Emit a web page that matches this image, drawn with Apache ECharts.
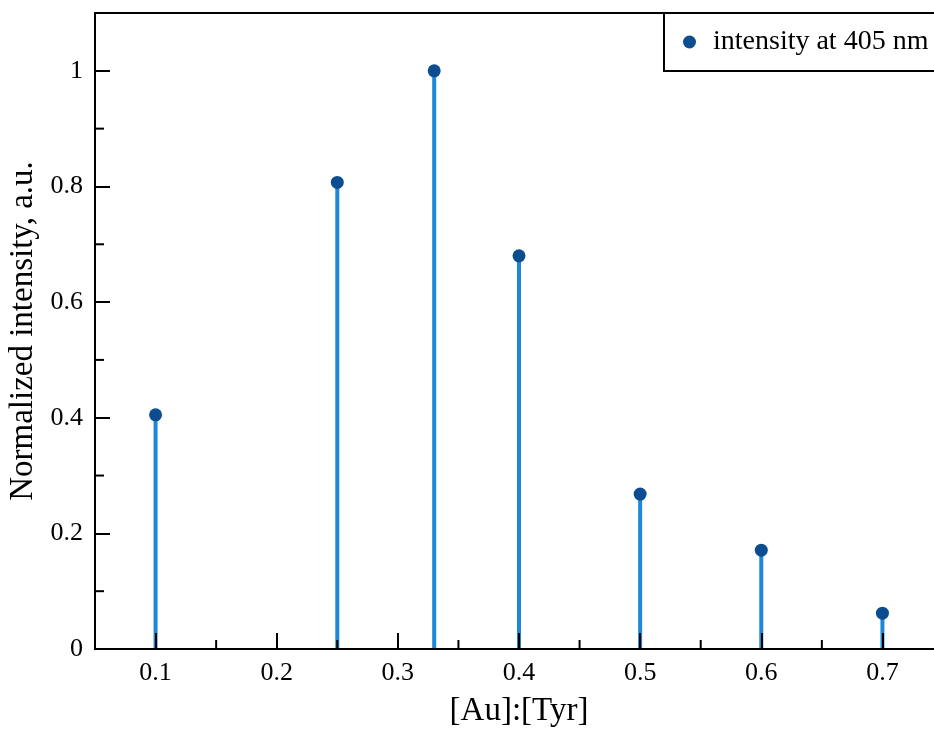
<!DOCTYPE html>
<html>
<head>
<meta charset="utf-8">
<script src="https://cdn.jsdelivr.net/npm/echarts@6/dist/echarts.min.js"></script>
<style>html,body{margin:0;padding:0;background:#fff;}#c{width:934px;height:731px;}</style>
</head>
<body>
<div id="c"></div>
<script>
const ratios = [0.1, 0.25, 0.33, 0.4, 0.5, 0.6, 0.7];
const intensity = [0.405, 0.807, 1.0, 0.680, 0.268, 0.171, 0.062];
const xTicks = [0.1, 0.2, 0.3, 0.4, 0.5, 0.6, 0.7];
const xMinorTicks = [0.15, 0.25, 0.35, 0.45, 0.55, 0.65];
const yTicks = [0, 0.2, 0.4, 0.6, 0.8, 1];
const yMinorTicks = [0.1, 0.3, 0.5, 0.7, 0.9];
const seriesName = 'intensity at 405 nm';

const pts = ratios.map((x, i) => [x, intensity[i]]);
const font = 'Liberation Serif';
const chart = echarts.init(document.getElementById('c'), null, {renderer: 'canvas'});
chart.setOption({
  animation: false,
  backgroundColor: '#fff',
  grid: {left: 95, top: 13, right: -9, bottom: 82, show: true, borderColor: '#000', borderWidth: 2, z: 0,
    containLabel: false, outerBoundsMode: 'none'},
  legend: {
    show: true, data: [{name: seriesName, icon: 'circle'}],
    left: 664, top: 13, orient: 'horizontal',
    padding: [15, 40, 15, 19], itemWidth: 13, itemHeight: 13, itemGap: 5,
    borderColor: '#000', borderWidth: 2, backgroundColor: '#fff',
    textStyle: {fontFamily: font, fontSize: 28, color: '#000', padding: [0, 0, 0, 12]}
  },
  xAxis: {
    type: 'value', min: 0.05, max: 0.75, interval: 0.05, z: 10,
    name: '[Au]:[Tyr]', nameLocation: 'middle', nameGap: 46,
    nameTextStyle: {fontFamily: font, fontSize: 33, color: '#000'},
    axisLine: {show: true, onZero: false, lineStyle: {color: '#000', width: 2}},
    axisTick: {show: true, inside: true, length: 16, lineStyle: {color: '#000', width: 2},
      customValues: xTicks},
    minorTick: {show: false},
    axisLabel: {fontFamily: font, fontSize: 26, color: '#000', margin: 11,
      customValues: xTicks, formatter: v => String(+v.toFixed(2))},
    splitLine: {show: false}
  },
  yAxis: {
    type: 'value', min: 0, max: 1.1, interval: 0.1, z: 10,
    name: 'Normalized intensity, a.u.', nameLocation: 'middle', nameGap: 54,
    nameTextStyle: {fontFamily: font, fontSize: 33, color: '#000'},
    axisLine: {show: true, lineStyle: {color: '#000', width: 2}},
    axisTick: {show: true, inside: true, length: 15, lineStyle: {color: '#000', width: 2},
      customValues: yTicks},
    axisLabel: {fontFamily: font, fontSize: 26, color: '#000', margin: 12,
      customValues: yTicks, formatter: v => String(+v.toFixed(1))},
    splitLine: {show: false}
  },
  series: [
    {
      type: 'custom', name: 'stems', silent: true, z: 2,
      data: pts,
      renderItem: function (params, api) {
        const p0 = api.coord([api.value(0), 0]);
        const p1 = api.coord([api.value(0), api.value(1)]);
        return {type: 'line', shape: {x1: p0[0], y1: p0[1], x2: p1[0], y2: p1[1]},
          style: {stroke: '#1e88d8', lineWidth: 4}};
      }
    },
    {
      type: 'scatter', name: seriesName, data: pts, symbol: 'circle', symbolSize: 13, z: 3,
      itemStyle: {color: '#0b4d8f', opacity: 1}
    },
    {
      type: 'custom', name: 'minorX', silent: true, z: 11,
      data: xMinorTicks.map(v => [v]),
      renderItem: function (params, api) {
        const p0 = api.coord([api.value(0), 0]);
        return {type: 'line', shape: {x1: p0[0], y1: p0[1], x2: p0[0], y2: p0[1] - 9},
          style: {stroke: '#000', lineWidth: 2}};
      }
    },
    {
      type: 'custom', name: 'minorY', silent: true, z: 11,
      data: yMinorTicks.map(v => [v]),
      renderItem: function (params, api) {
        const p0 = api.coord([0.05, api.value(0)]);
        return {type: 'line', shape: {x1: p0[0], y1: p0[1], x2: p0[0] + 9, y2: p0[1]},
          style: {stroke: '#000', lineWidth: 2}};
      },
      encode: {x: -1, y: 0}
    }
  ]
});
</script>
</body>
</html>
